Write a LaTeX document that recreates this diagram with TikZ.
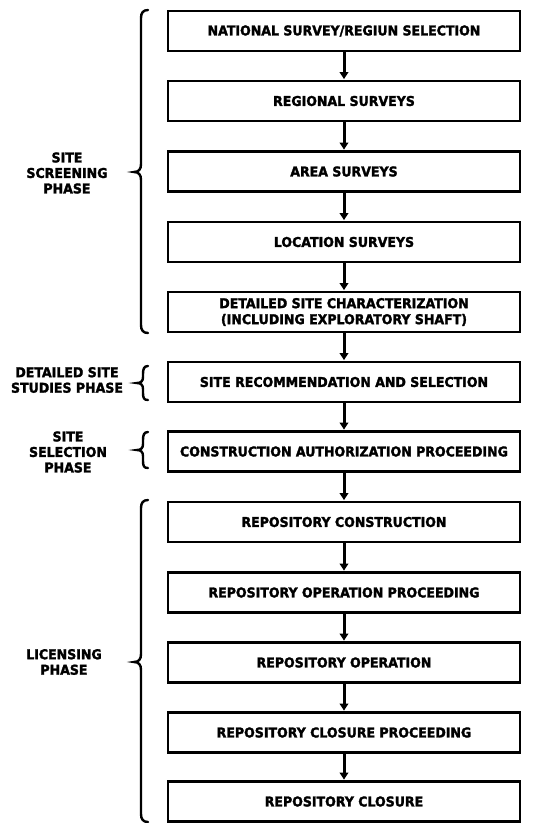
\documentclass[tikz,border=0pt]{standalone}
\usepackage{fontspec}
\newfontfamily\hfont{DejaVu Sans Bold}[FakeStretch=0.93,FakeBold=2]
\usetikzlibrary{arrows.meta}
\begin{document}
\begin{tikzpicture}[x=1pt,y=-1pt,
  stepbox/.style={draw,line width=2.8pt,minimum width=352pt,minimum height=40pt,inner sep=0pt,align=center,font=\hfont\fontsize{13.5}{16}\selectfont},
  arr/.style={line width=3pt,-{Triangle[length=7pt,width=8.5pt]},shorten >=0.5pt},
  phase/.style={align=center,font=\hfont\fontsize{13.5}{15.5}\selectfont},
  brace/.style={line width=2.4pt,line cap=round}]
\useasboundingbox (0,0) rectangle (545,823);
\fill[white] (0,0) rectangle (545,823);
\node[stepbox] (b1) at (344,31) {NATIONAL SURVEY/REGIUN SELECTION};
\node[stepbox] (b2) at (344,101) {REGIONAL SURVEYS};
\node[stepbox] (b3) at (344,171.5) {AREA SURVEYS};
\node[stepbox] (b4) at (344,242) {LOCATION SURVEYS};
\node[stepbox] (b5) at (344,312) {DETAILED SITE CHARACTERIZATION\\(INCLUDING EXPLORATORY SHAFT)};
\node[stepbox] (b6) at (344,382) {SITE RECOMMENDATION AND SELECTION};
\node[stepbox] (b7) at (344,451.5) {CONSTRUCTION AUTHORIZATION PROCEEDING};
\node[stepbox] (b8) at (344,522) {REPOSITORY CONSTRUCTION};
\node[stepbox] (b9) at (344,592.5) {REPOSITORY OPERATION PROCEEDING};
\node[stepbox] (b10) at (344,662.5) {REPOSITORY OPERATION};
\node[stepbox] (b11) at (344,732.5) {REPOSITORY CLOSURE PROCEEDING};
\node[stepbox] (b12) at (344,801.5) {REPOSITORY CLOSURE};
\foreach \a/\b in {b1/b2,b2/b3,b3/b4,b4/b5,b5/b6,b6/b7,b7/b8,b8/b9,b9/b10,b10/b11,b11/b12}
  \draw[arr] (\a.south) -- (\b.north);
% braces
\draw[brace] (148,10) .. controls (143,10) and (141,13) .. (141,18) -- (141,164)
  .. controls (141,169) and (139,172) .. (134,172) .. controls (139,172) and (141,175) .. (141,180)
  -- (141,325) .. controls (141,330) and (143,333) .. (148,333);
\draw[brace] (148,366) .. controls (144,366) and (143,369) .. (143,374) -- (143,377)
  .. controls (143,381) and (141,383) .. (137,383) .. controls (141,383) and (143,385) .. (143,389)
  -- (143,393) .. controls (143,398) and (144,400) .. (148,400);
\draw[brace] (148,432) .. controls (144,432) and (143,435) .. (143,440) -- (143,444)
  .. controls (143,448) and (141,450) .. (137,450) .. controls (141,450) and (143,452) .. (143,456)
  -- (143,461) .. controls (143,466) and (144,468) .. (148,468);
\draw[brace] (148,500) .. controls (143,500) and (141,503) .. (141,508) -- (141,654)
  .. controls (141,659) and (139,662) .. (134,662) .. controls (139,662) and (141,665) .. (141,670)
  -- (141,814) .. controls (141,819) and (143,822) .. (148,822);
% phase labels
\node[phase] (p1) at (67,173) {SITE\\SCREENING\\PHASE};
\node[phase] (p2) at (67,380) {DETAILED SITE\\STUDIES PHASE};
\node[phase] (p3) at (68,452) {SITE\\SELECTION\\PHASE};
\node[phase] (p4) at (64,662) {LICENSING\\PHASE};
\end{tikzpicture}
\end{document}
